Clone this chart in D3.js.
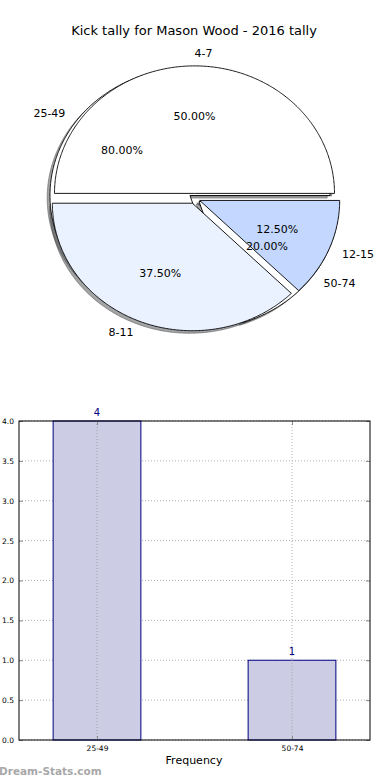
<!DOCTYPE html>
<html><head><meta charset="utf-8">
<script src="https://cdn.jsdelivr.net/npm/d3@7"></script>
<style>body{margin:0;background:#fff}svg{display:block}text{font-family:"DejaVu Sans",sans-serif}</style>
</head><body>
<script>
// ---- data ----
const titleText = "Kick tally for Mason Wood - 2016 tally";
const pieALabels = ["25-49", "50-74"];
const pieAValues = [4, 1];
const pieAColors = ["#ffffff", "#ffffff"];
const pieAExplode = [0.04, 0.04];
const pieBLabels = ["4-7", "8-11", "12-15"];
const pieBValues = [4, 3, 1];
const pieBColors = ["#ffffff", "#ebf2ff", "#c4d8ff"];
const pieBExplode = [0.04, 0.04, 0.04];
const barCategories = ["25-49", "50-74"];
const barValues = [4, 1];
const yTicks = [0, 0.5, 1, 1.5, 2, 2.5, 3, 3.5, 4];
const xLabel = "Frequency";
const watermark = "Dream-Stats.com";

const W = 390, H = 780;
const svg = d3.select("body").append("svg").attr("width", W).attr("height", H);

svg.append("text").attr("x", 194).attr("y", 30).attr("text-anchor", "middle")
  .attr("dominant-baseline", "central").attr("font-size", 13).text(titleText);

// ---- pie (matplotlib-style, elliptical axes) ----
const cx = 194.5, cy = 198.5, rx = 140, ry = 127.5;
const px = d3.scaleLinear().domain([-1, 1]).range([cx - rx, cx + rx]);
const py = d3.scaleLinear().domain([-1, 1]).range([cy + ry, cy - ry]);
const pieGen = d3.pie().sort(null).startAngle(Math.PI / 2).endAngle(Math.PI / 2 - 2 * Math.PI);
const line = d3.line();

function wedges(values, explode, labels, colors) {
  const tot = d3.sum(values);
  return pieGen(values).map((d, i) => {
    const t1 = Math.PI / 2 - d.startAngle, t2 = Math.PI / 2 - d.endAngle;
    const tm = (t1 + t2) / 2;
    const ox = explode[i] * Math.cos(tm), oy = explode[i] * Math.sin(tm);
    return {t1, t2, tm, ox, oy, label: labels[i], color: colors[i], pct: (100 * values[i] / tot).toFixed(2) + "%"};
  });
}
function wedgePath(w, sx, sy) {
  const n = Math.max(4, Math.ceil((w.t2 - w.t1) / 0.01));
  const pts = [[px(w.ox + sx), py(w.oy + sy)]];
  for (let k = 0; k <= n; k++) {
    const t = w.t1 + (w.t2 - w.t1) * k / n;
    pts.push([px(w.ox + sx + Math.cos(t)), py(w.oy + sy + Math.sin(t))]);
  }
  return line(pts) + "Z";
}
const wa = wedges(pieAValues, pieAExplode, pieALabels, pieAColors);
const wb = wedges(pieBValues, pieBExplode, pieBLabels, pieBColors);
const shadowCol = c => { const r = d3.rgb(c); return d3.rgb(r.r * 0.3, r.g * 0.3, r.b * 0.3).toString(); };

const gPie = svg.append("g");
// shadows behind all wedges
[...wa, ...wb].forEach(w => {
  gPie.append("path").attr("d", wedgePath(w, -0.02, -0.02))
    .attr("fill", shadowCol(w.color)).attr("fill-opacity", 0.5)
    .attr("stroke", shadowCol(w.color)).attr("stroke-opacity", 0.5).attr("stroke-width", 1);
});
[...wa, ...wb].forEach(w => {
  gPie.append("path").attr("d", wedgePath(w, 0, 0))
    .attr("fill", w.color).attr("stroke", "#000").attr("stroke-width", 0.9).attr("stroke-linejoin", "miter");
});
[...wa, ...wb].forEach(w => {
  const lx = w.ox + 1.1 * Math.cos(w.tm), ly = w.oy + 1.1 * Math.sin(w.tm);
  gPie.append("text").attr("x", px(lx)).attr("y", py(ly))
    .attr("text-anchor", lx - w.ox > 0 ? "start" : "end").attr("dominant-baseline", "central")
    .attr("font-size", 11).text(w.label);
  const qx = w.ox + 0.6 * Math.cos(w.tm), qy = w.oy + 0.6 * Math.sin(w.tm);
  gPie.append("text").attr("x", px(qx)).attr("y", py(qy))
    .attr("text-anchor", "middle").attr("dominant-baseline", "central")
    .attr("font-size", 11).text(w.pct);
});

// ---- bar chart ----
const L = 19, R = 370, T = 421, B = 740;
const x = d3.scaleLinear().domain([-0.4, 1.4]).range([L, R]);
const y = d3.scaleLinear().domain([0, 4]).range([B, T]);
const bw = 0.45;
const gB = svg.append("g");
// grid
gB.selectAll(".hg").data(yTicks).join("line")
  .attr("x1", L).attr("x2", R).attr("y1", d => y(d)).attr("y2", d => y(d))
  .attr("stroke", "#b0b0b0").attr("stroke-dasharray", "1,2");
gB.selectAll(".vg").data(barCategories).join("line")
  .attr("x1", (d, i) => x(i)).attr("x2", (d, i) => x(i)).attr("y1", T).attr("y2", B)
  .attr("stroke", "#b0b0b0").attr("stroke-dasharray", "1,2");
// bars
gB.selectAll(".bar").data(barValues).join("rect")
  .attr("x", (d, i) => x(i - bw / 2)).attr("width", x(bw) - x(0))
  .attr("y", d => y(d)).attr("height", d => B - y(d))
  .attr("fill", "#ccccE5").attr("stroke", "#000080").attr("stroke-width", 1);
// vertical grid over bars
gB.selectAll(".vg2").data(barCategories).join("line")
  .attr("x1", (d, i) => x(i)).attr("x2", (d, i) => x(i)).attr("y1", (d, i) => y(barValues[i])).attr("y2", B)
  .attr("stroke", "#a0a0a8").attr("stroke-dasharray", "1,2");
gB.selectAll(".vl").data(barValues).join("text")
  .attr("x", (d, i) => x(i)).attr("y", d => y(d) - 5).attr("text-anchor", "middle")
  .attr("font-size", 10).attr("fill", "#000080").text(d => d);
// axes
const ay = d3.axisLeft(y).tickValues(yTicks).tickFormat(d3.format(".1f")).tickSize(-4).tickPadding(5);
const gy = gB.append("g").attr("transform", `translate(${L},0)`).call(ay);
gy.selectAll("text").attr("font-size", 7.5).attr("font-family", "DejaVu Sans");
const ayr = d3.axisRight(y).tickValues(yTicks).tickFormat("").tickSize(-4);
gB.append("g").attr("transform", `translate(${R},0)`).call(ayr);
const ax = d3.axisBottom(x).tickValues([0, 1]).tickFormat((d, i) => barCategories[i]).tickSize(-4).tickPadding(6);
const gx = gB.append("g").attr("transform", `translate(0,${B})`).call(ax);
gx.selectAll("text").attr("font-size", 7.5).attr("font-family", "DejaVu Sans");
const axt = d3.axisTop(x).tickValues([0, 1]).tickFormat("").tickSize(-4);
gB.append("g").attr("transform", `translate(0,${T})`).call(axt);
gB.selectAll(".domain").remove();
gB.selectAll(".tick line").attr("stroke", "#888");
gB.append("rect").attr("x", L).attr("y", T).attr("width", R - L).attr("height", B - T)
  .attr("fill", "none").attr("stroke", "#000").attr("stroke-width", 1);
gB.append("text").attr("x", 194).attr("y", 760).attr("text-anchor", "middle")
  .attr("dominant-baseline", "central").attr("font-size", 11).text(xLabel);
svg.append("text").attr("x", -1).attr("y", 775).attr("font-size", 10.5).attr("font-weight", "bold")
  .attr("fill", "#a8a8a8").text(watermark);
</script>
</body></html>
